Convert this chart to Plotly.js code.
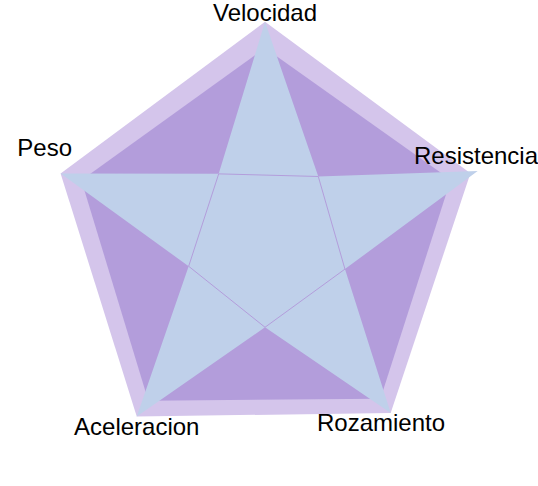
<!DOCTYPE html>
<html>
<head>
<meta charset="utf-8">
<script src="https://cdn.plot.ly/plotly-3.0.1.min.js"></script>
<style>
html,body{margin:0;padding:0;background:#fff;}
#chart{width:538px;height:486px;}
</style>
</head>
<body>
<div id="chart"></div>
<script>
// Categories (axes) and their angles (degrees, clockwise from top)
var categories = ["Velocidad", "Resistencia", "Rozamiento", "Aceleracion", "Peso"];
var axisAngles = [0, 72, 144, 216, 288];

// Outer (light purple) series
var outerValues = [10, 9.9, 9.8, 10, 9.85];
// Inner (dark purple) series
var innerValues = [8.8, 8.95, 9.0, 9.1, 8.85];

// Star series: tips on the axes, valleys between them
var starAngles = [0, 40, 72, 110, 144, 180, 216, 251, 288, 325];
var starValues = [10, 3.8, 10.25, 3.9, 9.8, 4.0, 10, 3.7, 9.85, 3.7];

// Inner pentagon outline (the star valleys)
var valleyAngles = [40, 110, 180, 251, 325];
var valleyValues = [3.8, 3.9, 4.0, 3.7, 3.7];

// ---- label placement (layout settings, not data) ----
var labelAnchorR = [9.76, 10.19, 9.55, 10, 9.54];
var labelAnchorTheta = [0, 71.65, 146.16, 216, 292];
var labelPositions = ["top center", "top center", "bottom center", "bottom center", "top left"];

var closedValleyAngles = valleyAngles.concat([valleyAngles[0]]);
var closedValleyValues = valleyValues.concat([valleyValues[0]]);

var traces = [
  {
    type: "scatterpolar", mode: "lines", fill: "toself",
    r: outerValues, theta: axisAngles,
    fillcolor: "#D4C5EB", line: {width: 0, color: "#D4C5EB"},
    hoverinfo: "skip", cliponaxis: false
  },
  {
    type: "scatterpolar", mode: "lines", fill: "toself",
    r: innerValues, theta: axisAngles,
    fillcolor: "#B39DDB", line: {width: 0, color: "#B39DDB"},
    hoverinfo: "skip", cliponaxis: false
  },
  {
    type: "scatterpolar", mode: "lines", fill: "toself",
    r: starValues, theta: starAngles,
    fillcolor: "#BFD0EA", line: {width: 0, color: "#BFD0EA"},
    hoverinfo: "skip", cliponaxis: false
  },
  {
    type: "scatterpolar", mode: "lines",
    r: closedValleyValues, theta: closedValleyAngles,
    line: {width: 1, color: "#B39DDB"},
    hoverinfo: "skip", cliponaxis: false
  },
  {
    type: "scatterpolar", mode: "text",
    r: labelAnchorR, theta: labelAnchorTheta,
    text: categories, textposition: labelPositions,
    textfont: {family: "Liberation Sans, Arial, sans-serif", size: 24, color: "#000"},
    hoverinfo: "skip", cliponaxis: false
  }
];

var layout = {
  width: 538, height: 486,
  margin: {l: 0, r: 0, t: 0, b: 0, pad: 0},
  paper_bgcolor: "#fff",
  showlegend: false,
  polar: {
    domain: {x: [25/538, 505/538], y: [6/486, 1]},
    bgcolor: "rgba(0,0,0,0)",
    radialaxis: {visible: false, range: [0, 11], showgrid: false, showline: false, showticklabels: false},
    angularaxis: {visible: false, rotation: 90, direction: "clockwise", showgrid: false, showline: false, showticklabels: false, ticks: ""}
  }
};

Plotly.newPlot("chart", traces, layout, {displayModeBar: false, staticPlot: true});
</script>
</body>
</html>
